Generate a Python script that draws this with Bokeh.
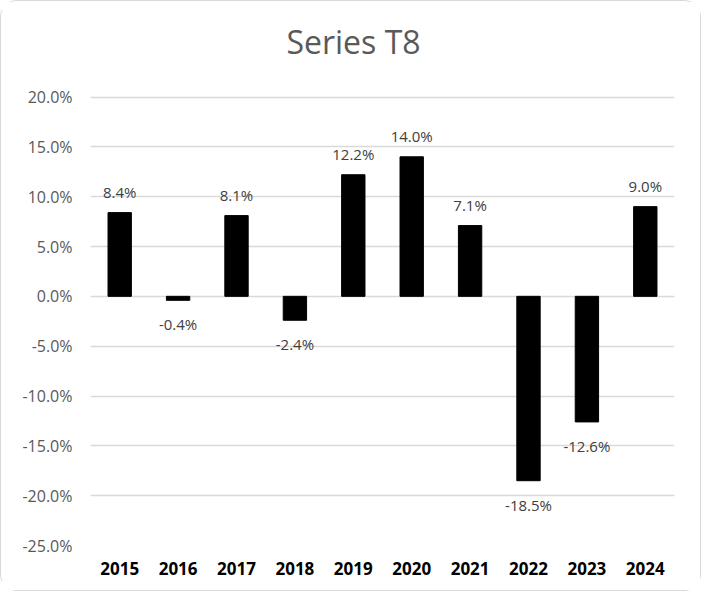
from bokeh.plotting import figure
from bokeh.models import FixedTicker, PrintfTickFormatter, ColumnDataSource, Range1d
from bokeh.core.properties import value
from bokeh.embed import file_html
from bokeh.resources import INLINE

years = ["2015", "2016", "2017", "2018", "2019", "2020", "2021", "2022", "2023", "2024"]
values = [8.4, -0.4, 8.1, -2.4, 12.2, 14.0, 7.1, -18.5, -12.6, 9.0]
y_ticks = [-25, -20, -15, -10, -5, 0, 5, 10, 15, 20]
title_text = "Series T8"

FONT = "Open Sans"
W, H = 701, 591
ML, MR, MB = 89, 28, 47
AXIS_MIN, AXIS_MAX = -25, 20
GRID_TOP_PX = 95.5          # pixel row of the top gridline inside the canvas
TITLE_BASELINE_PX = 40      # pixel row of the title baseline

frame_h = H - MB
px_per_unit = (frame_h - GRID_TOP_PX) / (AXIS_MAX - AXIS_MIN)
y_top = AXIS_MAX + GRID_TOP_PX / px_per_unit
title_y = AXIS_MAX + (GRID_TOP_PX - TITLE_BASELINE_PX) / px_per_unit

p = figure(x_range=years, y_range=Range1d(AXIS_MIN, y_top), width=W, height=H,
           output_backend="svg", toolbar_location=None,
           min_border_left=ML, min_border_right=MR, min_border_top=0,
           min_border_bottom=MB)
p.styles = {"border": "1px solid #d9d9d9", "border-radius": "16px"}
p.outline_line_color = None
p.background_fill_color = "white"
p.border_fill_color = "white"

src = ColumnDataSource(dict(x=years, top=values))
p.vbar(x="x", top="top", bottom=0, width=0.4, source=src,
       fill_color="black", line_color="black")

# data labels
pos_src = ColumnDataSource(dict(x=[y for y, v in zip(years, values) if v >= 0],
                                y=[v for v in values if v >= 0],
                                lab=[f"{v:.1f}%" for v in values if v >= 0]))
neg_src = ColumnDataSource(dict(x=[y for y, v in zip(years, values) if v < 0],
                                y=[v for v in values if v < 0],
                                lab=[f"{v:.1f}%" for v in values if v < 0]))
p.text(x="x", y="y", text="lab", source=pos_src, y_offset=-21,
       text_align="center", text_baseline="middle",
       text_font=value(FONT), text_font_size="15px", text_color="#404040")
p.text(x="x", y="y", text="lab", source=neg_src, y_offset=24,
       text_align="center", text_baseline="middle",
       text_font=value(FONT), text_font_size="15px", text_color="#404040")

# title (drawn inside the extended frame area, centred on the chart box)
p.text(x=[len(years) / 2], y=[title_y], text=[title_text], x_offset=-29,
       text_align="center", text_baseline="alphabetic",
       text_font=value(FONT), text_font_size="32px", text_color="#595959")

# axes
p.yaxis.ticker = FixedTicker(ticks=y_ticks)
p.yaxis.formatter = PrintfTickFormatter(format="%.1f%%")
p.yaxis.axis_line_color = None
p.yaxis.major_tick_line_color = None
p.yaxis.minor_tick_line_color = None
p.yaxis.major_tick_out = 0
p.yaxis.major_label_standoff = 18
p.yaxis.major_label_text_font = FONT
p.yaxis.major_label_text_font_size = "16px"
p.yaxis.major_label_text_color = "#595959"

p.xaxis.axis_line_color = None
p.xaxis.major_tick_line_color = None
p.xaxis.minor_tick_line_color = None
p.xaxis.major_tick_out = 0
p.xaxis.major_label_standoff = 16
p.xaxis.major_label_text_font = FONT
p.xaxis.major_label_text_font_style = "bold"
p.xaxis.major_label_text_font_size = "17px"
p.xaxis.major_label_text_color = "black"

p.xgrid.grid_line_color = None
p.ygrid.grid_line_color = "#d9d9d9"
p.ygrid.grid_line_width = 1.3

open("out.html", "w").write(file_html(p, INLINE))
